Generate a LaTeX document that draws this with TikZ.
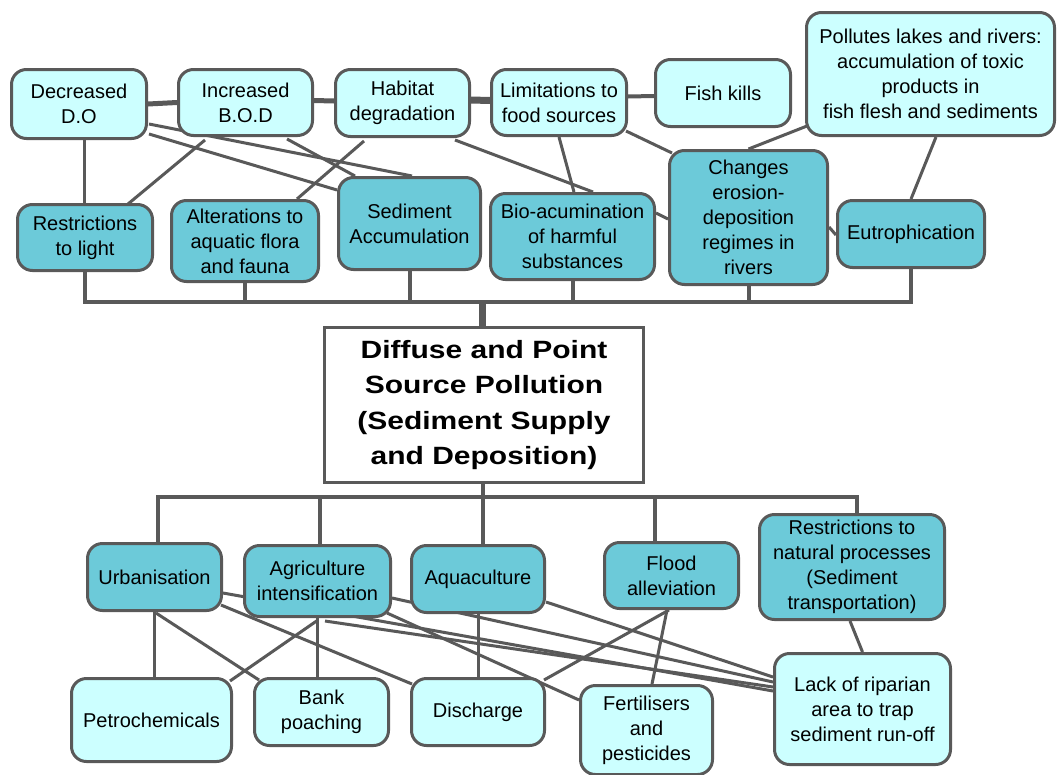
\documentclass[tikz,border=0pt]{standalone}
\usepackage{fontspec}
\setmainfont{Liberation Sans}
\newfontfamily\titlefont[FakeStretch=1.2]{Liberation Sans}
\usetikzlibrary{calc,backgrounds}
\definecolor{ln}{HTML}{595959}
\definecolor{lite}{HTML}{CCFFFF}
\definecolor{dark}{HTML}{6CCAD9}
\tikzset{
  box/.style={draw=ln, line width=3pt, rounded corners=15pt, inner sep=0pt,
    align=center, font=\fontsize{20}{25}\selectfont, text=black},
  litebox/.style={box, fill=lite},
  darkbox/.style={box, fill=dark},
  mainbox/.style={draw=ln, line width=3pt, fill=white, inner sep=0pt, align=center,
    font=\titlefont\bfseries\fontsize{25}{35.5}\selectfont},
  link/.style={draw=ln, line width=3pt},
  bus/.style={draw=ln, line width=4pt},
}
\begin{document}
\begin{tikzpicture}[x=1pt, y=-1pt]
\useasboundingbox (0,0) rectangle (1059,774);

% effects (top two rows)
\node[litebox, minimum width=135pt, minimum height=69pt] (do)  at (79,104)    {Decreased\\D.O};
\node[litebox, minimum width=134pt, minimum height=66pt] (bod) at (245.5,102.5) {Increased\\B.O.D};
\node[litebox, minimum width=134pt, minimum height=67pt] (hab) at (402.5,103) {Habitat\\degradation};
\node[litebox, minimum width=135pt, minimum height=66pt] (lim) at (559,102.5)  {Limitations to\\food sources};
\node[litebox, minimum width=135pt, minimum height=67pt] (fish) at (723,93)   {Fish kills};
\node[litebox, minimum width=248pt, minimum height=123pt] (pol) at (930.5,74)
  {Pollutes lakes and rivers:\\accumulation of toxic\\products in\\fish flesh and sediments};

\node[darkbox, minimum width=135pt, minimum height=66pt] (rl)  at (85,237.5)   {Restrictions\\to light};
\node[darkbox, minimum width=147pt, minimum height=81pt] (alt) at (245,241)   {Alterations to\\aquatic flora\\and fauna};
\node[darkbox, minimum width=142pt, minimum height=92pt] (sed) at (409.5,223.5) {Sediment\\Accumulation};
\node[darkbox, minimum width=164pt, minimum height=86pt] (bio) at (572.5,236.5) {Bio-acumination\\of harmful\\substances};
\node[darkbox, minimum width=158pt, minimum height=134pt] (chg) at (748.5,217.5)
  {Changes\\erosion-\\deposition\\regimes in\\rivers};
\node[darkbox, minimum width=147pt, minimum height=67pt] (eut) at (911,234)   {Eutrophication};

% central topic
\node[mainbox, minimum width=319pt, minimum height=155pt] (main) at (484,405)
  {Diffuse and Point\\Source Pollution\\(Sediment Supply\\and Deposition)};

% causes (bottom two rows)
\node[darkbox, minimum width=134pt, minimum height=67pt] (urb) at (154.5,577)  {Urbanisation};
\node[darkbox, minimum width=146pt, minimum height=71pt] (agr) at (317.5,581)  {Agriculture\\intensification};
\node[darkbox, minimum width=133pt, minimum height=67pt] (aqu) at (478,579)    {Aquaculture};
\node[darkbox, minimum width=134pt, minimum height=66pt] (fld) at (671.5,575.5) {Flood\\alleviation};
\node[darkbox, minimum width=185pt, minimum height=105pt] (rnp) at (852,567)
  {Restrictions to\\natural processes\\(Sediment\\transportation)};

\node[litebox, minimum width=160pt, minimum height=83pt] (pet) at (151.5,720)  {Petrochemicals};
\node[litebox, minimum width=134pt, minimum height=67pt] (bnk) at (321.5,712)  {Bank\\poaching};
\node[litebox, minimum width=133pt, minimum height=67pt] (dis) at (478,712)    {Discharge};
\node[litebox, minimum width=132pt, minimum height=89pt] (fer) at (646.5,730)  {Fertilisers\\and\\pesticides};
\node[litebox, minimum width=176pt, minimum height=111pt] (lck) at (862.5,709)
  {Lack of riparian\\area to trap\\sediment run-off};

\begin{pgfonlayer}{background}
\fill[white] (0,0) rectangle (1059,774);

% links between effects
\draw[link, line width=5pt] (do.east) -- (bod.west);
\draw[link, line width=5pt] ($(bod.east)+(0,-2)$) -- ($(hab.west)+(0,-2)$);
\draw[link, line width=7pt] ($(hab.east)+(0,-3)$) -- ($(lim.west)+(0,-2)$);
\draw[link, line width=4pt] ($(lim.east)+(0,-6)$) -- ($(fish.west)+(0,3)$);
\draw[link] ($(do.south)+(5,0)$) -- ($(rl.north)+(-1,0)$);
\draw[link] ($(bod.south)+(-40.5,3)$) -- ($(rl.north)+(43,1)$);
\draw[link] ($(do.east)+(1,20)$) -- ($(sed.north)+(2.5,0)$);
\draw[link] ($(do.east)+(1,30)$) -- ($(sed.west)+(0,-33.5)$);
\draw[link] ($(bod.south)+(41.5,2)$) -- ($(sed.north)+(-54.5,0)$);
\draw[link] ($(hab.south)+(-38.5,3)$) -- ($(alt.north)+(52,0)$);
\draw[link] ($(hab.south)+(52.5,2)$) -- ($(bio.north)+(20.5,0)$);
\draw[link] (lim.south) -- ($(bio.north)+(1.5,0)$);
\draw[link] ($(lim.east)+(-2,28.5)$) -- ($(chg.north west)+(4,4)$);
\draw[link] ($(bio.east)+(0,-23.5)$) -- ($(chg.west)+(0,1.5)$);
\draw[link] (chg.north) -- ($(pol.south west)+(2,-11)$);
\draw[link] ($(chg.east)+(0,9.5)$) -- ($(eut.west)+(0,1)$);
\draw[link] ($(pol.south)+(5.5,0)$) -- (eut.north);

% upper bus into the central topic
\coordinate (tb) at ($(main.north)+(-2,-24)$);
\foreach \n in {rl,alt,sed,bio,chg,eut} \draw[bus] (\n.south) |- (tb);
\draw[link, line width=7pt] (tb) -- (tb |- main.north);

% lower bus out of the central topic
\coordinate (bb) at ($(main.south)+(-1,13)$);
\draw[bus] (bb |- main.south) -- (bb);
\draw[bus] (bb) -| ($(urb.north)+(3.5,0)$);
\draw[bus] (bb) -| ($(agr.north)+(2.5,0)$);
\draw[bus] (bb) -- ($(aqu.north)+(5,0)$);
\draw[bus] (bb) -| ($(fld.north)+(-16.5,0)$);
\draw[bus] (bb) -| ($(rnp.north)+(5,0)$);

% links between causes
\draw[link] (urb.south) -- (urb.south |- pet.north);
\draw[link] ($(urb.south)+(1.5,1)$) -- ($(bnk.north west)+(6,3)$);
\draw[link] ($(urb.south east)+(-2,-7)$) -- ($(dis.north west)+(2,7)$);
\draw[link] ($(urb.east)+(0,16)$) -- ($(lck.west)+(0,-18)$);
\draw[link] ($(agr.south)+(0.5,2)$) -- ($(pet.north east)+(-3,4)$);
\draw[link] (agr.south) -- (agr.south |- bnk.north);
\draw[link] ($(agr.south)+(7.5,3)$) -- ($(lck.west)+(0,-22)$);
\draw[link] ($(agr.south east)+(-5,-5)$) -- ($(fer.west)+(0,-30)$);
\draw[link] ($(agr.east)+(0,17)$) -- ($(lck.west)+(0,-27)$);
\draw[link] (aqu.south) -- (dis.north);
\draw[link] ($(aqu.east)+(0,23)$) -- ($(lck.west)+(0,-32)$);
\draw[link] ($(fld.south)+(-2.5,0)$) -- ($(dis.north east)+(-2,3)$);
\draw[link] ($(fld.south)+(-4.5,0)$) -- ($(fer.north)+(5.5,0)$);
\draw[link] ($(rnp.south)+(-2,0)$) -- (lck.north);
\end{pgfonlayer}
\end{tikzpicture}
\end{document}
